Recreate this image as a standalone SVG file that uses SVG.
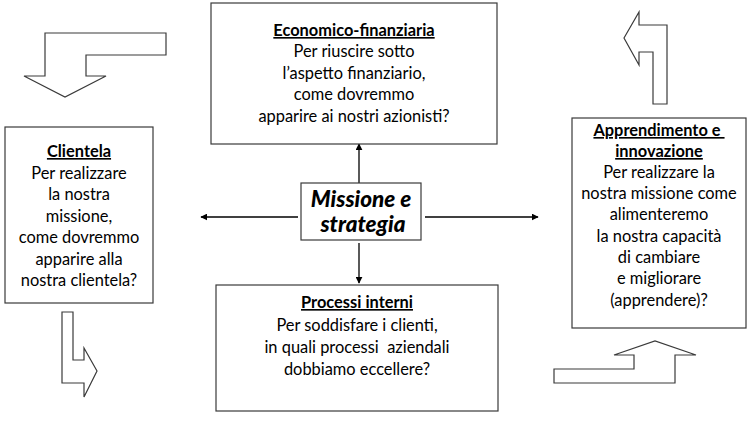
<svg xmlns="http://www.w3.org/2000/svg" width="754" height="433" viewBox="0 0 754 433">
<style>
.box{fill:#fff;stroke:#3a3a3a;stroke-width:1.2}
.t{font-family:Lato,"Open Sans","Liberation Sans",sans-serif;font-size:16.4px;fill:#000;text-anchor:middle}
.h{font-weight:bold;text-decoration:underline}
.c{font-family:Lato,"Open Sans","Liberation Sans",sans-serif;font-size:22.5px;font-weight:900;font-style:italic;fill:#000;text-anchor:middle}
.ln{stroke:#000;stroke-width:1.3;fill:none}
.ba{fill:#fff;stroke:#3a3a3a;stroke-width:1.2;stroke-linejoin:miter}
</style>
<defs>
<marker id="ah" viewBox="0 0 10 10" refX="9" refY="5" markerWidth="7" markerHeight="7" markerUnits="userSpaceOnUse" orient="auto">
<path d="M0,0 L10,5 L0,10 Z" fill="#000"/>
</marker>
</defs>
<rect width="754" height="433" fill="#fff"/>
<g id="flow-arrows">
<path class="ba" d="M45,33 L166,33 L166,55 L86,55 L86,76 L106,76 L65,97 L24,76 L45,76 Z"/>
<path class="ba" d="M624,38 L639,12 L639,25 L667,25 L667,104 L653,104 L653,52 L639,52 L639,65 Z"/>
<path class="ba" d="M62,312 L73,312 L73,360 L84,360 L84,348 L97,371 L84,397 L84,383 L62,383 Z"/>
<path class="ba" d="M554,369 L634,369 L634,355 L614,355 L655,341 L696,355 L675,355 L675,383 L554,383 Z"/>
</g>
<g id="connectors">
<line class="ln" x1="359" y1="183" x2="359" y2="144" marker-end="url(#ah)"/>
<line class="ln" x1="359" y1="243" x2="359" y2="283" marker-end="url(#ah)"/>
<line class="ln" x1="298" y1="217" x2="201" y2="217" marker-end="url(#ah)"/>
<line class="ln" x1="425" y1="217" x2="538" y2="217" marker-end="url(#ah)"/>
</g>
<g id="economico">
<rect class="box" x="211" y="3" width="286" height="141"/>
<text class="t h" x="354" y="36">Economico-finanziaria</text>
<text class="t" x="354" y="57">Per riuscire sotto</text>
<text class="t" x="354" y="79">l’aspetto finanziario,</text>
<text class="t" x="354" y="100">come dovremmo</text>
<text class="t" x="354" y="122">apparire ai nostri azionisti?</text>
</g>
<g id="clientela">
<rect class="box" x="5" y="127" width="148" height="176"/>
<text class="t h" x="79" y="157">Clientela</text>
<text class="t" x="79" y="179">Per realizzare</text>
<text class="t" x="79" y="200">la nostra</text>
<text class="t" x="79" y="222">missione,</text>
<text class="t" x="79" y="243">come dovremmo</text>
<text class="t" x="79" y="265">apparire alla</text>
<text class="t" x="79" y="286">nostra clientela?</text>
</g>
<g id="missione">
<rect class="box" x="301" y="183" width="120" height="57"/>
<text class="c" x="361" y="207">Missione e</text>
<text class="c" x="363" y="232">strategia</text>
</g>
<g id="apprendimento">
<rect class="box" x="572" y="118" width="174" height="210"/>
<text class="t h" x="659" y="136" xml:space="preserve">Apprendimento e </text>
<text class="t h" x="659" y="157">innovazione</text>
<text class="t" x="659" y="178">Per realizzare la</text>
<text class="t" x="659" y="199">nostra missione come</text>
<text class="t" x="659" y="220">alimenteremo</text>
<text class="t" x="659" y="242">la nostra capacità</text>
<text class="t" x="659" y="263">di cambiare</text>
<text class="t" x="659" y="284">e migliorare</text>
<text class="t" x="659" y="306">(apprendere)?</text>
</g>
<g id="processi">
<rect class="box" x="216" y="285" width="282" height="126"/>
<text class="t h" x="357" y="308">Processi interni</text>
<text class="t" x="357" y="331">Per soddisfare i clienti,</text>
<text class="t" x="357" y="353" xml:space="preserve">in quali processi  aziendali</text>
<text class="t" x="357" y="375">dobbiamo eccellere?</text>
</g>
</svg>
